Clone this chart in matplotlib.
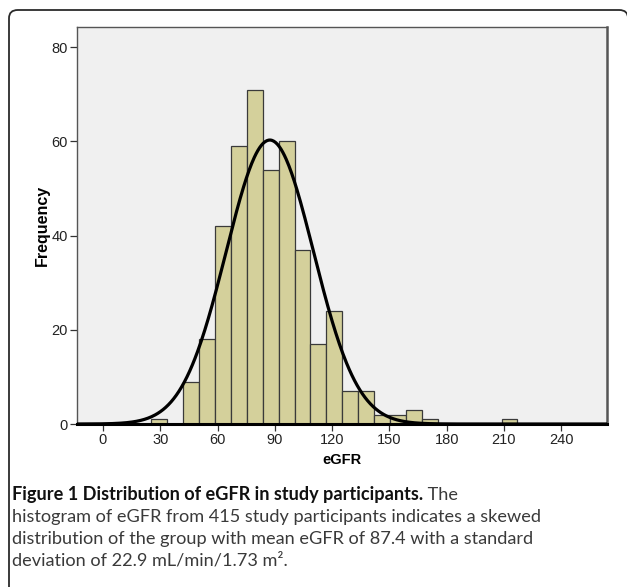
import numpy as np
import matplotlib
matplotlib.use("Agg")
import matplotlib.pyplot as plt
from matplotlib.patches import FancyBboxPatch

# histogram of eGFR
bin_start = 25.3
bin_width = 8.34
counts = [1, 0, 9, 18, 42, 59, 71, 54, 60, 37, 17, 24, 7, 7, 2, 2, 3, 1,
          0, 0, 0, 0, 1]
n_participants = 415
mean_egfr = 87.4
sd_egfr = 22.9

x_ticks = [0, 30, 60, 90, 120, 150, 180, 210, 240]
y_ticks = [0, 20, 40, 60, 80]

edges = [bin_start + i * bin_width for i in range(len(counts))]

fig = plt.figure(figsize=(6.27, 5.87), dpi=100)
fig.patch.set_facecolor("white")

# rounded frame around the figure panel
frame = FancyBboxPatch((9 / 627, -0.05), 1 - 8 / 627, 1.05 - 10 / 587,
                       boxstyle="round,pad=0,rounding_size=0.014",
                       transform=fig.transFigure, facecolor="none",
                       edgecolor="#2b2b2b", linewidth=1.3)
fig.patches.append(frame)

ax = fig.add_axes([77 / 627, 1 - 424 / 587, 530 / 627, 397 / 587])
ax.set_facecolor("#f0f0f0")

ax.bar(edges, counts, width=bin_width, align="edge", color="#d4d09b",
       edgecolor="#3a3a3a", linewidth=0.9, zorder=2)

# normal curve scaled to counts
xs = np.linspace(-14, 264, 600)
ys = n_participants * bin_width / (sd_egfr * np.sqrt(2 * np.pi)) * \
    np.exp(-0.5 * ((xs - mean_egfr) / sd_egfr) ** 2)
ax.plot(xs, ys, color="black", linewidth=2.3, zorder=3)

ax.set_xlim(-13.6, 264)
ax.set_ylim(0, 84.3)
ax.set_xticks(x_ticks)
ax.set_yticks(y_ticks)

for side in ["top", "left"]:
    ax.spines[side].set_color("#555555")
    ax.spines[side].set_linewidth(1.0)
ax.spines["right"].set_color("#555555")
ax.spines["right"].set_linewidth(1.8)
ax.spines["bottom"].set_color("black")
ax.spines["bottom"].set_linewidth(2.2)

ax.tick_params(axis="both", length=5, width=0.9, color="#333333",
               labelsize=10.5, labelcolor="#222222", pad=1.5)
for lab in ax.get_xticklabels() + ax.get_yticklabels():
    lab.set_family("Liberation Sans")

ax.set_xlabel("eGFR", fontsize=10.5, fontweight="bold",
              family="Liberation Sans", labelpad=4)
ax.set_ylabel("Frequency", fontsize=11.5, fontweight="bold",
              family="Liberation Sans", va="center")
ax.yaxis.set_label_coords(-0.066, 0.5)

# caption
cap_font = "Lato"
cap_size = 13.1
t1 = fig.text(12 / 627, 1 - 500 / 587,
              "Figure 1 Distribution of eGFR in study participants.",
              fontsize=cap_size, fontweight="bold", family=cap_font,
              color="#111111", va="baseline")
ax.annotate(" The", xy=(1, 0), xycoords=t1, va="bottom", ha="left",
            fontsize=cap_size, family=cap_font, color="#3a3a3a")
caption_lines = [
    "histogram of eGFR from 415 study participants indicates a skewed",
    "distribution of the group with mean eGFR of 87.4 with a standard",
    "deviation of 22.9 mL/min/1.73 m\u00b2.",
]
for i, line in enumerate(caption_lines):
    fig.text(12 / 627, 1 - (522 + 22 * i) / 587, line, fontsize=cap_size,
             family=cap_font, color="#3a3a3a", va="baseline")

fig.savefig("out.png", dpi=100, facecolor="white")
